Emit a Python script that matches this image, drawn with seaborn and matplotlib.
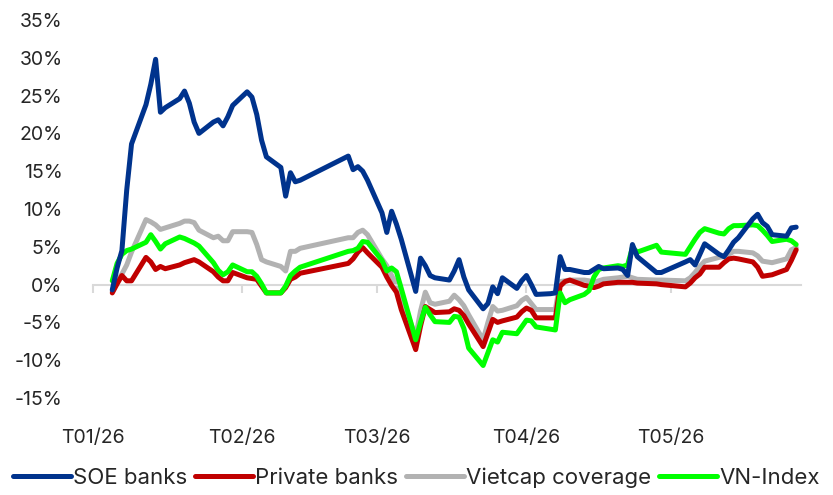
import pandas as pd
import seaborn as sns
import matplotlib.pyplot as plt
import matplotlib.dates as mdates
from matplotlib.ticker import FuncFormatter

sns.set_style('white')
plt.rcParams['font.family'] = ['Inter', 'DejaVu Sans']

# trading days, Tet + April/May holidays left out
holidays = ['2026-02-16', '2026-02-17', '2026-02-18', '2026-02-19', '2026-02-20',
            '2026-04-27', '2026-04-30', '2026-05-01']
dates = pd.bdate_range('2026-01-05', '2026-05-27', freq='C', holidays=holidays)

# cumulative return, %
soe = [-0.7, 2.2, 4.5, 12.5, 18.6,
       23.8, 26.5, 29.8, 22.8, 23.4,
       24.6, 25.6, 24.0, 21.5, 20.0,
       21.5, 21.8, 21.0, 22.2, 23.7,
       25.5, 24.8, 22.5, 19.1, 16.9,
       15.5, 11.7, 14.8, 13.6, 13.8,
       17.0, 15.2, 15.6, 15.0, 13.8,
       9.5, 6.9, 9.7, 8.0, 6.0,
       -0.9, 3.5, 2.5, 1.2, 0.9,
       0.6, 1.8, 3.3, 1.0, -0.7,
       -3.2, -2.5, -0.3, -1.2, 0.9,
       -0.5, 0.5, 1.2, 0.0, -1.3,
       -1.2, -1.1, 3.7, 2.0, 2.0,
       1.6, 1.6, 2.0, 2.4, 2.1,
       2.2, 2.0, 1.2, 5.3, 3.7,
       1.6, 1.6,
       3.0, 3.3, 2.6, 4.0, 5.4,
       4.0, 3.7, 4.6, 5.6, 6.2,
       8.7, 9.3, 8.2, 7.7, 6.6,
       6.4, 7.5, 7.6]

private = [-1.1, 0.1, 1.2, 0.5, 0.5,
           3.6, 3.0, 2.0, 2.4, 2.1,
           2.6, 2.9, 3.1, 3.3, 3.0,
           1.7, 1.0, 0.5, 0.5, 1.6,
           0.9, 0.8, 0.7, -0.2, -1.1,
           -1.1, -0.4, 0.7, 1.0, 1.5,
           2.8, 3.4, 4.3, 4.9, 4.2,
           2.3, 1.0, -0.1, -1.0, -3.3,
           -8.6, -5.5, -2.9, -3.3, -3.7,
           -3.6, -3.2, -3.4, -4.1, -5.2,
           -8.2, -6.4, -4.6, -5.0, -4.8,
           -4.3, -3.6, -3.1, -3.4, -4.4,
           -4.4, -4.4, -0.2, 0.4, 0.6,
           -0.1, -0.2, -0.4, -0.2, 0.1,
           0.3, 0.3, 0.3, 0.3, 0.2,
           0.1, 0.0,
           -0.3, 0.2, 0.9, 1.4, 2.3,
           2.3, 2.9, 3.4, 3.5, 3.4,
           3.0, 2.3, 1.1, 1.2, 1.3,
           2.0, 3.2, 4.6]

vietcap = [-0.9, 0.4, 1.4, 2.6, 4.3,
           8.6, 8.3, 7.9, 7.3, 7.5,
           8.1, 8.4, 8.4, 8.2, 7.2,
           6.2, 6.4, 5.8, 5.8, 7.0,
           7.0, 6.9, 5.3, 3.3, 3.0,
           2.4, 1.8, 4.4, 4.4, 4.8,
           6.2, 6.2, 6.9, 7.2, 6.6,
           3.4, 2.5, 1.2, 0.0, -1.6,
           -6.9, -3.5, -1.0, -2.4, -2.6,
           -2.2, -1.4, -2.0, -2.8, -4.0,
           -7.3, -5.0, -2.9, -3.5, -3.4,
           -2.8, -2.1, -1.7, -2.5, -3.3,
           -3.3, -3.3, 0.4, 0.5, 0.6,
           0.6, 0.5, 0.3, 0.5, 0.7,
           0.9, 1.0, 1.1, 0.9, 0.7,
           0.6, 0.6,
           0.5, 0.9, 1.6, 2.4, 3.1,
           3.6, 3.7, 4.0, 4.4, 4.4,
           4.2, 3.8, 3.1, 3.0, 2.9,
           3.4, 4.6, 4.9]

vnindex = [0.5, 2.8, 4.0, 4.5, 4.7,
           5.6, 6.6, 5.7, 4.7, 5.4,
           6.3, 6.1, 5.8, 5.5, 5.1,
           2.9, 1.9, 1.3, 1.7, 2.6,
           1.7, 1.7, 1.1, 0.1, -1.1,
           -1.1, -0.2, 1.2, 1.8, 2.3,
           4.4, 4.5, 4.8, 5.7, 5.6,
           3.2, 1.8, 2.2, 1.7, -0.5,
           -7.3, -5.0, -3.0, -4.0, -4.9,
           -5.0, -4.2, -4.3, -5.8, -8.4,
           -10.7, -9.0, -7.3, -7.6, -6.3,
           -6.5, -5.6, -4.7, -4.8, -5.6,
           -5.9, -6.0, -1.1, -2.4, -2.0,
           -1.3, -0.8, 1.0, 2.0, 2.2,
           2.5, 2.4, 2.6, 4.9, 4.3,
           5.2, 4.3,
           4.0, 5.0, 6.0, 6.9, 7.4,
           6.8, 6.7, 7.4, 7.8, 7.8,
           7.9, 7.8, 7.2, 6.5, 5.7,
           6.0, 5.8, 5.3]

names = ['SOE banks', 'Private banks', 'Vietcap coverage', 'VN-Index']
colors = ['#00338D', '#C00000', '#B2B2B2', '#00FF00']
series = [soe, private, vietcap, vnindex]
zorders = [5, 3, 2, 4]

fig = plt.figure(figsize=(8.33, 4.95), dpi=100)
ax = fig.add_axes([93 / 833, 1 - 398 / 495, (801 - 93) / 833, (398 - 20) / 495])

for name, vals, c, z in zip(names, series, colors, zorders):
    sns.lineplot(x=dates, y=vals, color=c, lw=3.6, label=name, zorder=z, ax=ax,
                 solid_joinstyle='round', solid_capstyle='round')

ax.set_xlim(pd.Timestamp('2026-01-01'), pd.Timestamp('2026-05-28'))
ax.set_ylim(-15, 35)
ax.set_yticks(range(-15, 36, 5))
ax.yaxis.set_major_formatter(FuncFormatter(lambda v, _: f'{v:.0f}%'))
ax.set_xlabel('')
ax.set_ylabel('')

for s in ['left', 'top', 'right']:
    ax.spines[s].set_visible(False)
ax.spines['bottom'].set_position(('data', 0))
ax.spines['bottom'].set_color('#D9D9D9')
ax.spines['bottom'].set_linewidth(1.5)
ax.xaxis.set_major_locator(mdates.MonthLocator())
ax.tick_params(axis='x', length=6, width=1.5, color='#D9D9D9', direction='out',
               labelbottom=False, bottom=True)
ax.tick_params(axis='y', length=0, pad=22, labelsize=14, labelcolor='#262626')

# month labels sit under the plot, not on the 0% line
sec = ax.secondary_xaxis('bottom')
sec.spines['bottom'].set_visible(False)
sec.xaxis.set_major_locator(mdates.MonthLocator())
sec.xaxis.set_major_formatter(mdates.DateFormatter('T%m/%y'))
sec.tick_params(axis='x', length=0, pad=22, labelsize=14, labelcolor='#262626')

h, l = ax.get_legend_handles_labels()
ax.get_legend().remove()
order = [l.index(n) for n in names]
fig.legend([h[i] for i in order], [l[i] for i in order], loc='center',
           bbox_to_anchor=(0.5, 1 - 478 / 495), ncol=4, frameon=False, fontsize=16,
           handlelength=2.6, handletextpad=0.1, columnspacing=0.35, labelcolor='#262626')

fig.savefig('out.png', dpi=100)
